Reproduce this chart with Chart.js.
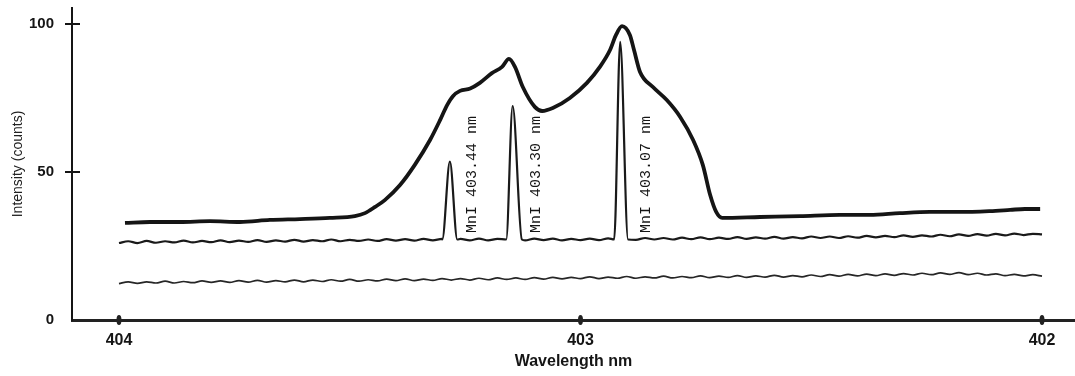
<!DOCTYPE html>
<html>
<head>
<meta charset="utf-8">
<script src="https://cdn.jsdelivr.net/npm/chart.js@4/dist/chart.umd.min.js"></script>
<style>
  body { margin: 0; background: #fff; }
</style>
</head>
<body>
<canvas id="chart" width="1075" height="376"></canvas>
<script>
// tick values
const xTicks = [404, 403, 402]
const yTicks = [0, 50, 100]

// broad plasma emission (thick upper trace)
const broadWl = [403.987, 403.933, 403.868, 403.803, 403.738, 403.673, 403.608, 403.543, 403.489, 403.467,
  403.445, 403.424, 403.391, 403.359, 403.326, 403.304, 403.289, 403.276, 403.261, 403.239,
  403.218, 403.192, 403.170, 403.155, 403.142, 403.125, 403.099, 403.083, 403.060, 403.023,
  402.986, 402.958, 402.936, 402.923, 402.910, 402.893, 402.884, 402.871, 402.843,
  402.813, 402.784, 402.756, 402.735, 402.719, 402.706, 402.693, 402.611, 402.524, 402.438,
  402.373, 402.308, 402.243, 402.178, 402.113, 402.069, 402.037, 402.004]
const broadVal = [32.8, 33.1, 33.1, 33.4, 33.1, 33.8, 34.1, 34.5, 35.1, 36.1,
  38.2, 40.5, 45.6, 52.4, 60.8, 67.6, 72.6, 75.7, 77.4, 78.2,
  80.1, 83.4, 85.5, 88.2, 85.5, 78.7, 72.0, 70.6, 71.6, 75.0,
  80.1, 85.5, 91.2, 96.3, 99.3, 96.3, 91.2, 83.8, 78.7,
  74.3, 68.6, 60.8, 52.4, 42.2, 36.5, 34.5, 34.8, 35.1, 35.5,
  35.5, 36.1, 36.5, 36.5, 36.8, 37.2, 37.5, 37.5]

// sampling grid for the two noisy traces
const gridWl = [404.00, 403.98, 403.96, 403.94, 403.92, 403.90, 403.88, 403.86, 403.84, 403.82,
  403.80, 403.78, 403.76, 403.74, 403.72, 403.70, 403.68, 403.66, 403.64, 403.62,
  403.60, 403.58, 403.56, 403.54, 403.52, 403.50, 403.48, 403.46, 403.44, 403.42,
  403.40, 403.38, 403.36, 403.34, 403.32, 403.30, 403.28, 403.26, 403.24, 403.22,
  403.20, 403.18, 403.16, 403.14, 403.12, 403.10, 403.08, 403.06, 403.04, 403.02,
  403.00, 402.98, 402.96, 402.94, 402.92, 402.90, 402.88, 402.86, 402.84, 402.82,
  402.80, 402.78, 402.76, 402.74, 402.72, 402.70, 402.68, 402.66, 402.64, 402.62,
  402.60, 402.58, 402.56, 402.54, 402.52, 402.50, 402.48, 402.46, 402.44, 402.42,
  402.40, 402.38, 402.36, 402.34, 402.32, 402.30, 402.28, 402.26, 402.24, 402.22,
  402.20, 402.18, 402.16, 402.14, 402.12, 402.10, 402.08, 402.06, 402.04, 402.02,
  402.00]

// middle trace baseline (MnI lines spectrum)
const lineBase = [26.0, 26.6, 26.0, 26.7, 26.1, 26.6, 26.2, 26.8, 26.2, 26.7,
  26.3, 26.9, 26.3, 26.8, 26.4, 27.0, 26.4, 26.9, 26.5, 27.1,
  26.5, 27.0, 26.6, 27.2, 26.6, 27.1, 26.7, 27.2, 26.7, 27.3,
  26.8, 27.3, 26.8, 27.4, 26.9, 27.4, 26.8, 27.4, 26.9, 27.5,
  26.9, 27.4, 27.0, 27.5, 26.9, 27.5, 27.0, 27.5, 26.9, 27.4,
  27.0, 27.5, 27.0, 27.6, 27.1, 27.6, 27.1, 27.7, 27.2, 27.7,
  27.2, 27.8, 27.3, 27.9, 27.3, 27.8, 27.4, 28.0, 27.4, 27.9,
  27.5, 28.1, 27.5, 28.0, 27.6, 28.2, 27.7, 28.2, 27.7, 28.3,
  27.8, 28.4, 27.9, 28.4, 28.0, 28.6, 28.1, 28.6, 28.2, 28.8,
  28.3, 28.9, 28.4, 29.0, 28.5, 29.1, 28.6, 29.2, 28.7, 29.1,
  28.9]

// the three MnI peaks: [left foot, apex, right foot]
const peakWl = [
  [403.2995, 403.283, 403.267],
  [403.161, 403.147, 403.127],
  [402.927, 402.914, 402.897]
]
const peakVal = [
  [27.2, 53.5, 27.2],
  [27.2, 72.3, 27.2],
  [27.2, 94.0, 27.2]
]
const peakLabels = ['MnI 403.44 nm', 'MnI 403.30 nm', 'MnI 403.07 nm']
const labelWl = [403.236, 403.097, 402.858]
const labelFoot = 29.4

// bottom trace (background)
const bgVal = [12.3, 12.9, 12.4, 12.9, 12.5, 13.1, 12.5, 13.0, 12.6, 13.2,
  12.7, 13.2, 12.7, 13.3, 12.8, 13.4, 12.8, 13.3, 12.9, 13.5,
  12.9, 13.5, 13.0, 13.6, 13.1, 13.7, 13.1, 13.6, 13.2, 13.8,
  13.3, 13.9, 13.3, 13.8, 13.4, 14.0, 13.5, 14.0, 13.5, 14.1,
  13.6, 14.2, 13.7, 14.2, 13.7, 14.3, 13.8, 14.4, 13.9, 14.4,
  14.0, 14.6, 14.0, 14.5, 14.1, 14.7, 14.1, 14.6, 14.2, 14.8,
  14.2, 14.7, 14.3, 14.9, 14.3, 14.8, 14.4, 15.0, 14.4, 14.9,
  14.5, 15.1, 14.5, 15.0, 14.6, 15.2, 14.7, 15.3, 14.8, 15.4,
  14.9, 15.5, 15.0, 15.6, 15.1, 15.7, 15.2, 15.8, 15.3, 15.9,
  15.4, 16.0, 15.3, 15.8, 15.2, 15.6, 15.0, 15.4, 14.9, 15.3,
  14.8]

// build point lists
const broadPts = broadWl.map((w, i) => ({ x: w, y: broadVal[i] }))
const bgPts = gridWl.map((w, i) => ({ x: w, y: bgVal[i] }))

let linePts = gridWl
  .map((w, i) => ({ x: w, y: lineBase[i] }))
  .filter(p => !peakWl.some(pk => p.x <= pk[0] && p.x >= pk[2]))
peakWl.forEach((pk, i) => {
  pk.forEach((w, j) => linePts.push({ x: w, y: peakVal[i][j] }))
})
linePts.sort((a, b) => b.x - a.x)

const ink = '#151515'
const sans = 'Liberation Sans, Arial, sans-serif'

const decor = {
  id: 'decor',
  afterDraw(chart) {
    const ctx = chart.ctx
    const xs = chart.scales.x
    const ys = chart.scales.y
    const area = chart.chartArea
    ctx.save()
    // crossing ticks on y axis
    ctx.strokeStyle = ink
    ctx.lineWidth = 2
    yTicks.filter(v => v > 0).forEach(v => {
      const py = ys.getPixelForValue(v)
      ctx.beginPath()
      ctx.moveTo(area.left - 7, py)
      ctx.lineTo(area.left + 8, py)
      ctx.stroke()
    })
    // blob ticks on x axis
    ctx.fillStyle = '#222'
    xTicks.forEach(v => {
      const px = xs.getPixelForValue(v)
      ctx.beginPath()
      ctx.ellipse(px, area.bottom, 2.5, 5, 0, 0, Math.PI * 2)
      ctx.fill()
    })
    // rotated peak labels
    ctx.fillStyle = ink
    ctx.font = '15px "Liberation Mono", "DejaVu Sans Mono", monospace'
    ctx.textAlign = 'left'
    ctx.textBaseline = 'middle'
    peakLabels.forEach((t, i) => {
      ctx.save()
      ctx.translate(xs.getPixelForValue(labelWl[i]), ys.getPixelForValue(labelFoot))
      ctx.rotate(-Math.PI / 2)
      ctx.fillText(t, 0, 0)
      ctx.restore()
    })
    ctx.restore()
  }
}

new Chart(document.getElementById('chart'), {
  type: 'line',
  plugins: [decor],
  data: {
    datasets: [
      { data: broadPts, borderColor: ink, borderWidth: 3.8 },
      { data: linePts, borderColor: '#1a1a1a', borderWidth: 2.2 },
      { data: bgPts, borderColor: '#262626', borderWidth: 1.7 }
    ]
  },
  options: {
    responsive: false,
    animation: false,
    parsing: false,
    layout: { padding: { top: 8, right: 0, left: 0, bottom: 0 } },
    elements: {
      point: { radius: 0 },
      line: { cubicInterpolationMode: 'monotone', fill: false }
    },
    plugins: { legend: { display: false }, tooltip: { enabled: false } },
    scales: {
      x: {
        type: 'linear',
        reverse: true,
        min: 401.9285,
        max: 404.1018,
        afterBuildTicks: s => { s.ticks = xTicks.map(v => ({ value: v })) },
        afterFit: s => { s.height = 56; s.paddingLeft = 0; s.paddingRight = 0 },
        grid: { drawOnChartArea: false, drawTicks: false },
        border: { color: '#222', width: 3 },
        ticks: {
          color: ink,
          padding: 11,
          maxRotation: 0,
          font: { family: sans, size: 16, weight: 'bold' },
          callback: v => String(v)
        },
        title: {
          display: true,
          text: 'Wavelength nm',
          color: ink,
          padding: { top: 0, bottom: 5 },
          font: { family: sans, size: 16, weight: 'bold' }
        }
      },
      y: {
        min: 0,
        max: 105.4,
        afterBuildTicks: s => { s.ticks = yTicks.map(v => ({ value: v })) },
        afterFit: s => { s.width = 72; s.paddingTop = 0; s.paddingBottom = 0 },
        grid: { drawOnChartArea: false, drawTicks: false },
        border: { color: ink, width: 2 },
        ticks: {
          color: ink,
          padding: 18,
          font: { family: sans, size: 15, weight: 'bold' },
          callback: v => String(v)
        },
        title: {
          display: true,
          text: 'Intensity (counts)',
          color: '#222',
          padding: { top: 10, bottom: 0 },
          font: { family: sans, size: 14 }
        }
      }
    }
  }
})
</script>
</body>
</html>
